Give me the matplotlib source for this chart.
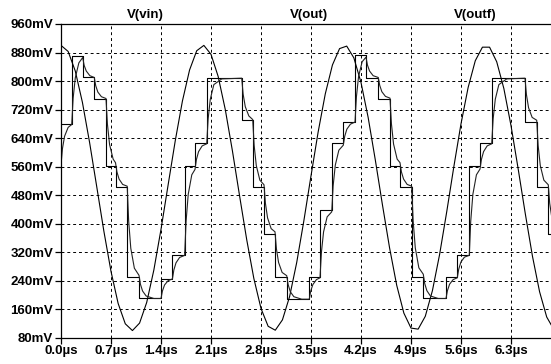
import numpy as np
import matplotlib
matplotlib.use("Agg")
import matplotlib.pyplot as plt

plt.rcParams["font.family"] = ["Liberation Sans", "DejaVu Sans"]
plt.rcParams["font.weight"] = "bold"

# V(vin): senoide, uma amostra a cada 0.1us (mV)
vin_t = np.arange(70) * 0.1
vin_mv = [900, 883, 828, 740, 628, 504, 379, 266, 176, 119,
          100, 121, 179, 270, 384, 509, 633, 744, 831, 885,
          900, 875, 813, 720, 604, 478, 355, 246, 162, 112,
          101, 130, 195, 291, 408, 534, 657, 764, 845, 891,
          898, 865, 796, 698, 579, 453, 332, 227, 149, 107,
          104, 140, 212, 313, 433, 560, 680, 782, 857, 895,
          895, 854, 779, 675, 554, 428, 309, 209, 138, 103]

# V(out): escada (instante da mudança em us, nível em mV)
out_t = [0.0, 0.150, 0.304, 0.466, 0.630, 0.763, 0.927, 1.092,
         1.400, 1.560, 1.731, 1.876, 2.040,
         2.530, 2.684, 2.842, 2.996, 3.160,
         3.476, 3.626, 3.790, 3.952, 4.116,
         4.270, 4.442, 4.606, 4.746, 4.910,
         5.072, 5.390, 5.548, 5.716, 5.866,
         6.030, 6.496, 6.660, 6.822, 6.900]
out_mv = [680, 870, 810, 750, 562, 503, 249, 190,
          246, 312, 562, 625, 808,
          690, 503, 372, 250, 188,
          249, 438, 625, 686, 873,
          809, 751, 562, 503, 251,
          190, 249, 312, 562, 625,
          808, 686, 503, 372, 372]

# V(outf): saída filtrada (pontos lidos ao longo das curvas arredondadas)
outf_t = [0.000, 0.020, 0.050, 0.100, 0.150, 0.170, 0.200, 0.250,
          0.304, 0.324, 0.354, 0.404, 0.466, 0.486, 0.516, 0.566,
          0.630, 0.650, 0.680, 0.730, 0.763, 0.783, 0.813, 0.863,
          0.927, 0.947, 0.977, 1.027, 1.092, 1.112, 1.142, 1.192, 1.300,
          1.400, 1.420, 1.450, 1.500, 1.560, 1.580, 1.610, 1.660,
          1.731, 1.751, 1.781, 1.831, 1.876, 1.896, 1.926, 1.976,
          2.040, 2.060, 2.090, 2.140, 2.250,
          2.530, 2.550, 2.580, 2.630, 2.684, 2.704, 2.734, 2.784,
          2.842, 2.862, 2.892, 2.942, 2.996, 3.016, 3.046, 3.096,
          3.160, 3.180, 3.210, 3.260, 3.370,
          3.476, 3.496, 3.526, 3.576, 3.626, 3.646, 3.676, 3.726,
          3.790, 3.810, 3.840, 3.890, 3.952, 3.972, 4.002, 4.052,
          4.116, 4.136, 4.166, 4.216, 4.270, 4.290, 4.320, 4.370,
          4.442, 4.462, 4.492, 4.542, 4.606, 4.626, 4.656, 4.706,
          4.746, 4.766, 4.796, 4.846, 4.910, 4.930, 4.960, 5.010,
          5.072, 5.092, 5.122, 5.172, 5.280,
          5.390, 5.410, 5.440, 5.490, 5.548, 5.568, 5.598, 5.648,
          5.716, 5.736, 5.766, 5.816, 5.866, 5.886, 5.916, 5.966,
          6.030, 6.050, 6.080, 6.130, 6.240,
          6.496, 6.516, 6.546, 6.596, 6.660, 6.680, 6.710, 6.760,
          6.822, 6.842, 6.872]
outf_mv = [565, 610, 645, 670, 678, 752, 809, 851,
           866, 844, 828, 815, 810, 787, 769, 756,
           751, 679, 622, 581, 571, 545, 525, 510,
           505, 408, 331, 275, 255, 230, 211, 197, 190,
           190, 211, 228, 240, 245, 270, 290, 305,
           311, 406, 482, 537, 552, 580, 602, 618,
           624, 694, 749, 790, 806,
           808, 763, 728, 702, 692, 620, 563, 522,
           509, 457, 416, 386, 377, 329, 291, 263,
           254, 229, 209, 195, 188,
           188, 211, 229, 243, 248, 320, 377, 419,
           433, 506, 564, 606, 620, 645, 665, 679,
           685, 756, 813, 854, 867, 845, 828, 815,
           810, 788, 770, 757, 752, 680, 623, 581,
           571, 545, 525, 510, 505, 408, 332, 276,
           258, 232, 212, 197, 190,
           190, 212, 230, 243, 248, 272, 292, 306,
           311, 406, 482, 537, 553, 580, 602, 618,
           624, 694, 749, 790, 806,
           808, 762, 725, 698, 690, 619, 563, 522,
           509, 457, 416]

trace_names = ["V(vin)", "V(out)", "V(outf)"]
y_ticks = list(range(80, 961, 80))
x_ticks = [0.0, 0.7, 1.4, 2.1, 2.8, 3.5, 4.2, 4.9, 5.6, 6.3]

W, H = 551, 364
fig = plt.figure(figsize=(W / 100, H / 100), dpi=100)
ax = fig.add_axes([61 / W, 1 - 337.7 / H, 490 / W, (337.7 - 24) / H])

ax.plot(vin_t, vin_mv, color="black", lw=0.8)
ax.plot(out_t, out_mv, color="black", lw=0.8, drawstyle="steps-post")
ax.plot(outf_t, outf_mv, color="#222222", lw=0.8)

ax.set_xlim(0, 6.86)
ax.set_ylim(80, 960)
ax.set_yticks(y_ticks)
ax.set_yticklabels([f"{v}mV" for v in y_ticks])
ax.set_xticks(x_ticks)
ax.set_xticklabels([f"{v:.1f}µs" for v in x_ticks])

ax.grid(True, color="black", linestyle=(0, (3, 3)), linewidth=0.7)
ax.spines["right"].set_visible(False)
for s in ["left", "top", "bottom"]:
    ax.spines[s].set_linewidth(0.9)
ax.tick_params(direction="out", length=4, width=0.9, labelsize=9.5, pad=1.5)

# nomes dos traços no topo
for name, xp in zip(trace_names, [145, 308.5, 475]):
    fig.text(xp / W, 1 - 15 / H, name, ha="center", va="center",
             fontsize=9.5, fontweight="bold")

fig.savefig("out.png", dpi=100)
